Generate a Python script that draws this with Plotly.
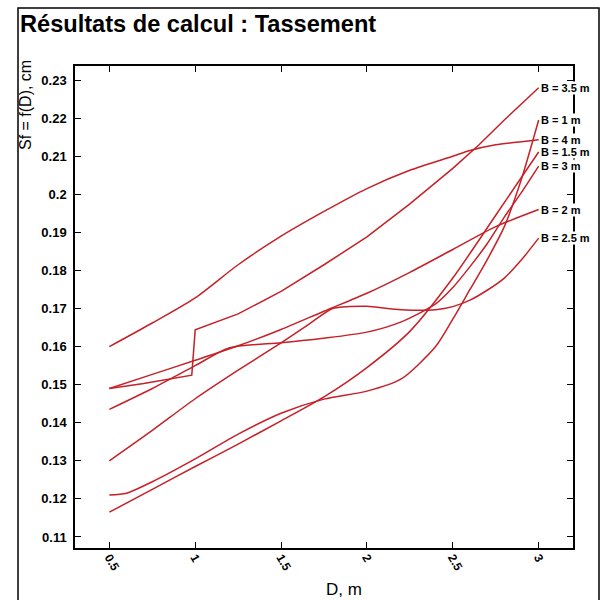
import plotly.graph_objects as go

# ---- data ----
labels = ["B = 3.5 m", "B = 1 m", "B = 4 m", "B = 1.5 m", "B = 3 m", "B = 2 m", "B = 2.5 m"]

d_35 = [0.5, 0.7, 0.98, 1.0, 1.25, 1.5, 1.75, 2.0, 2.25, 2.5, 2.65, 2.8, 3.0]
s_35 = [0.149, 0.1503, 0.1525, 0.1644, 0.1686, 0.1745, 0.1815, 0.1888, 0.1975, 0.2068, 0.2129, 0.2195, 0.228]

d_1 = [0.5, 0.6, 0.75, 1.0, 1.25, 1.5, 1.75, 2.0, 2.2, 2.4, 2.5, 2.6, 2.7, 2.8, 2.9, 3.0]
s_1 = [0.121, 0.1215, 0.1245, 0.1305, 0.137, 0.1425, 0.1462, 0.1483, 0.1515, 0.160, 0.1672, 0.175, 0.1828, 0.1915, 0.204, 0.2195]

d_4 = [0.5, 0.75, 1.0, 1.25, 1.5, 1.75, 2.0, 2.25, 2.5, 2.6, 2.75, 2.9, 3.0]
s_4 = [0.160, 0.1662, 0.1728, 0.1815, 0.189, 0.1955, 0.2015, 0.2063, 0.2100, 0.2115, 0.2130, 0.2138, 0.2143]

d_15 = [0.5, 0.75, 1.0, 1.25, 1.5, 1.75, 2.0, 2.25, 2.5, 2.75, 3.0]
s_15 = [0.1165, 0.1225, 0.1285, 0.1344, 0.1405, 0.1468, 0.1545, 0.1640, 0.1780, 0.1945, 0.2111]

d_3 = [0.5, 0.75, 1.0, 1.2, 1.5, 1.75, 2.0, 2.2, 2.4, 2.5, 2.6, 2.7, 2.8, 2.9, 3.0]
s_3 = [0.1435, 0.149, 0.155, 0.1597, 0.161, 0.1622, 0.1638, 0.1665, 0.1712, 0.1755, 0.181, 0.187, 0.194, 0.2005, 0.2074]

d_2 = [0.5, 0.75, 1.0, 1.25, 1.5, 1.75, 2.0, 2.25, 2.5, 2.75, 3.0]
s_2 = [0.149, 0.1527, 0.1564, 0.1602, 0.1645, 0.1693, 0.1740, 0.1795, 0.1855, 0.1915, 0.196]

d_25 = [0.5, 0.75, 1.0, 1.25, 1.5, 1.65, 1.8, 1.9, 2.0, 2.2, 2.4, 2.5, 2.6, 2.7, 2.8, 2.9, 3.0]
s_25 = [0.130, 0.138, 0.1463, 0.1538, 0.161, 0.1655, 0.1700, 0.1705, 0.1706, 0.1697, 0.1697, 0.1705, 0.1722, 0.1748, 0.178, 0.1828, 0.1885]

series = [(d_35, s_35), (d_1, s_1), (d_4, s_4), (d_15, s_15), (d_3, s_3), (d_2, s_2), (d_25, s_25)]
shapes_of_line = ["linear", "spline", "spline", "spline", "spline", "spline", "spline"]

x_ticks = [0.5, 1, 1.5, 2, 2.5, 3]
x_ticktext = ["0.5", "1", "1.5", "2", "2.5", "3"]
y_ticks = [0.11, 0.12, 0.13, 0.14, 0.15, 0.16, 0.17, 0.18, 0.19, 0.2, 0.21, 0.22, 0.23]
y_ticktext = ["0.11", "0.12", "0.13", "0.14", "0.15", "0.16", "0.17", "0.18", "0.19", "0.2", "0.21", "0.22", "0.23"]

RED = "#c62028"
FONT = "Liberation Sans, Arial, sans-serif"

fig = go.Figure()
for (dx, sy), name, shp in zip(series, labels, shapes_of_line):
    line = dict(color=RED, width=1.5, shape=shp)
    if shp == "spline":
        line["smoothing"] = 0.7
    fig.add_trace(go.Scatter(x=dx, y=sy, mode="lines", name=name,
                             line=line, showlegend=False))

# end labels
for (dx, sy), name in zip(series, labels):
    fig.add_annotation(x=dx[-1], y=sy[-1], text="<b>%s</b>" % name, showarrow=False,
                       xanchor="left", yanchor="middle", xshift=1,
                       font=dict(family=FONT, size=11, color="black"),
                       bgcolor="white", borderpad=0)

fig.update_xaxes(range=[0.3, 3.2], tickvals=x_ticks, ticktext=x_ticktext,
                 ticks="inside", ticklen=6, tickwidth=1.2, tickcolor="black",
                 showline=True, linecolor="black", linewidth=1.5, mirror="ticks",
                 showgrid=False, zeroline=False, tickangle=60, ticklabelstandoff=-4,
                 tickfont=dict(family=FONT, size=12, color="black", weight="bold"))
fig.update_yaxes(range=[0.1071, 0.2337], tickvals=y_ticks, ticktext=y_ticktext,
                 ticks="inside", ticklen=6, tickwidth=1.2, tickcolor="black",
                 showline=True, linecolor="black", linewidth=1.5, mirror="ticks",
                 showgrid=False, zeroline=False, ticklabelstandoff=4,
                 tickfont=dict(family=FONT, size=13, color="black", weight="bold"))

# axis titles
fig.add_annotation(xref="paper", yref="paper", x=0.54, y=-0.087, text="D, m",
                   showarrow=False, xanchor="center", yanchor="middle",
                   font=dict(family=FONT, size=17, color="black"))
fig.add_annotation(xref="paper", yref="paper", x=-0.1004, y=0.919, text="Sf = f(D), cm",
                   showarrow=False, xanchor="center", yanchor="middle", textangle=-90,
                   font=dict(family=FONT, size=16, color="black"))

# outer frame
fig.add_shape(type="rect", xref="paper", yref="paper",
              x0=(18 - 75) / 498, x1=(599 - 75) / 498,
              y0=-0.2, y1=(548 - 8) / 482,
              line=dict(color="black", width=1.5), layer="below")

fig.update_layout(
    width=607, height=600,
    margin=dict(l=75, r=34, t=66, b=52),
    paper_bgcolor="white", plot_bgcolor="white",
    title=dict(text="<b>Résultats de calcul : Tassement</b>", xref="container", yref="container",
               x=20 / 607, xanchor="left", y=1 - 24 / 600, yanchor="middle",
               font=dict(family=FONT, size=23.6, color="black")),
)

fig.write_html("out.html")
